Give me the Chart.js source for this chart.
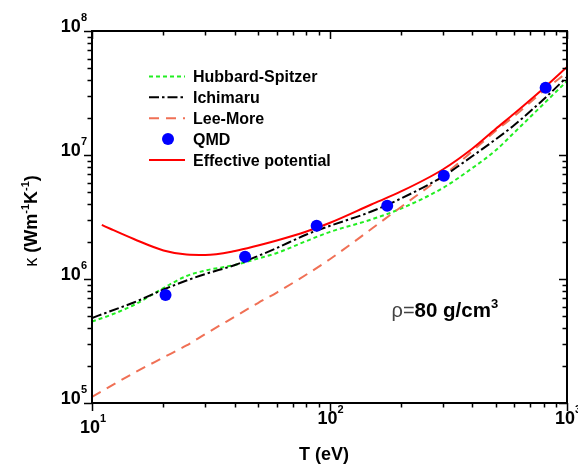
<!DOCTYPE html>
<html>
<head>
<meta charset="utf-8">
<script src="https://cdn.jsdelivr.net/npm/chart.js@4"></script>
<style>
  html, body { margin: 0; padding: 0; background: #fff; }
  canvas { display: block; }
</style>
</head>
<body>
<canvas id="kappa" width="578" height="466"></canvas>
<script>
// Thermal conductivity of dense plasma at rho = 80 g/cm^3 (log-log)
const tempsModel = [10, 12, 15, 20, 25, 30, 40, 50, 60, 80, 100, 150, 200, 300, 400, 500, 600, 800, 1000];
const hubbardSpitzer = [4.54e5, 5.13e5, 6.17e5, 8.46e5, 1.057e6, 1.171e6, 1.297e6, 1.463e6, 1.621e6, 2.025e6, 2.39e6, 3.02e6, 3.70e6, 5.42e6, 7.86e6, 1.087e7, 1.519e7, 2.60e7, 3.95e7];
const ichimaru = [4.85e5, 5.52e5, 6.46e5, 8.23e5, 9.72e5, 1.097e6, 1.297e6, 1.533e6, 1.778e6, 2.285e6, 2.675e6, 3.50e6, 4.46e6, 6.71e6, 9.81e6, 1.334e7, 1.746e7, 2.83e7, 4.26e7];

const tempsLeeMore = [10, 15, 20, 25, 30, 40, 50, 60, 80, 100, 150, 200, 300, 400, 500, 600, 800, 1000];
const leeMore = [1.118e5, 1.745e5, 2.33e5, 2.91e5, 3.60e5, 4.98e5, 6.40e5, 7.78e5, 1.087e6, 1.437e6, 2.53e6, 3.81e6, 6.77e6, 1.077e7, 1.562e7, 2.06e7, 3.31e7, 4.63e7];

const tempsEffective = [11, 12, 15, 20, 25, 30, 40, 50, 60, 80, 100, 150, 200, 300, 400, 500, 600, 800, 1000];
const effectivePotential = [2.73e6, 2.53e6, 2.10e6, 1.70e6, 1.576e6, 1.562e6, 1.682e6, 1.863e6, 2.044e6, 2.416e6, 2.83e6, 3.99e6, 5.08e6, 7.64e6, 1.128e7, 1.62e7, 2.16e7, 3.47e7, 5.13e7];

const tempsQmd = [20.4, 44.1, 88.3, 175, 303, 813];
const qmd = [7.43e5, 1.51e6, 2.69e6, 3.90e6, 6.81e6, 3.49e7];

const xDecades = [1, 2, 3];       // tick labels 10^1 .. 10^3
const yDecades = [5, 6, 7, 8];    // tick labels 10^5 .. 10^8
const seriesNames = ['Hubbard-Spitzer', 'Ichimaru', 'Lee-More', 'QMD', 'Effective potential'];

const FONT = '"Liberation Sans", Arial, Helvetica, sans-serif';
const toPoints = (xs, ys) => xs.map((x, i) => ({ x, y: ys[i] }));

// Draws a sequence of text runs (font / raise) starting at x on baseline y
function drawRuns(ctx, runs, x, y) {
  let cx = x;
  for (const r of runs) {
    ctx.font = r.font;
    ctx.fillStyle = r.color || '#000';
    ctx.fillText(r.text, cx, y - (r.raise || 0));
    cx += ctx.measureText(r.text).width;
  }
  return cx;
}
function runsWidth(ctx, runs) {
  let w = 0;
  for (const r of runs) { ctx.font = r.font; w += ctx.measureText(r.text).width; }
  return w;
}
function powRuns(exp) {
  return [
    { text: '10', font: 'bold 18px ' + FONT },
    { text: String(exp), font: 'bold 11px ' + FONT, raise: 11 }
  ];
}

const framePlugin = {
  id: 'frame',
  afterDraw(chart) {
    const { ctx, chartArea: a, scales: { x, y } } = chart;
    ctx.save();
    ctx.textBaseline = 'alphabetic';
    ctx.textAlign = 'left';

    // tick marks on all four sides
    ctx.strokeStyle = '#000';
    ctx.lineWidth = 1.5;
    const majorLen = 8, minorLen = 4.5;
    const xTicks = [], yTicks = [];
    xDecades.forEach((e, i) => {
      xTicks.push({ v: Math.pow(10, e), major: true });
      if (i < xDecades.length - 1) for (let m = 2; m <= 9; m++) xTicks.push({ v: m * Math.pow(10, e), major: false });
    });
    yDecades.forEach((e, i) => {
      yTicks.push({ v: Math.pow(10, e), major: true });
      if (i < yDecades.length - 1) for (let m = 2; m <= 9; m++) yTicks.push({ v: m * Math.pow(10, e), major: false });
    });
    ctx.beginPath();
    for (const t of xTicks) {
      const px = Math.round(x.getPixelForValue(t.v)) + 0.5;
      const len = t.major ? majorLen : minorLen;
      ctx.moveTo(px, a.bottom); ctx.lineTo(px, a.bottom + len);
      ctx.moveTo(px, a.top); ctx.lineTo(px, a.top + len);
    }
    for (const t of yTicks) {
      const py = Math.round(y.getPixelForValue(t.v)) + 0.5;
      const len = t.major ? majorLen : minorLen;
      ctx.moveTo(a.left - len, py); ctx.lineTo(a.left, py);
      ctx.moveTo(a.right - len, py); ctx.lineTo(a.right, py);
    }
    ctx.stroke();

    // axis frame
    ctx.lineWidth = 2;
    ctx.strokeRect(a.left, a.top, a.right - a.left, a.bottom - a.top);

    // x tick labels
    xDecades.forEach((e, i) => {
      const runs = powRuns(e);
      const w = runsWidth(ctx, runs);
      const px = x.getPixelForValue(Math.pow(10, e));
      const base = a.bottom + 21 + (i === 0 ? 9 : 0);
      drawRuns(ctx, runs, px - w / 2 + 1, base);
    });
    // y tick labels
    yDecades.forEach(e => {
      const runs = powRuns(e);
      const w = runsWidth(ctx, runs);
      const py = y.getPixelForValue(Math.pow(10, e));
      drawRuns(ctx, runs, a.left - 5 - w, py + 1);
    });

    // x axis title
    ctx.font = 'bold 18px ' + FONT;
    ctx.fillStyle = '#000';
    ctx.textAlign = 'center';
    ctx.fillText('T (eV)', 324, 459.5);
    ctx.textAlign = 'left';

    // y axis title, rotated
    const yTitle = [
      { text: 'κ', font: '18px ' + FONT },
      { text: ' (Wm', font: 'bold 18px ' + FONT },
      { text: '-1', font: 'bold 11px ' + FONT, raise: 8 },
      { text: 'K', font: 'bold 18px ' + FONT },
      { text: '-1', font: 'bold 11px ' + FONT, raise: 8 },
      { text: ')', font: 'bold 18px ' + FONT }
    ];
    ctx.save();
    ctx.translate(37, 221);
    ctx.rotate(-Math.PI / 2);
    drawRuns(ctx, yTitle, -runsWidth(ctx, yTitle) / 2, 0);
    ctx.restore();

    // density annotation
    drawRuns(ctx, [
      { text: 'ρ=', font: '20px ' + FONT, color: '#444' },
      { text: '80 g/cm', font: 'bold 20.5px ' + FONT },
      { text: '3', font: 'bold 13px ' + FONT, raise: 9 }
    ], 391.5, 317);

    // legend
    const rowY0 = 76.5, rowStep = 20.85;
    chart.data.datasets.forEach(ds => {
      const idx = seriesNames.indexOf(ds.label);
      const ry = rowY0 + idx * rowStep;
      if (ds.showLine === false) {
        ctx.beginPath();
        ctx.fillStyle = ds.backgroundColor;
        ctx.arc(168, ry, 6, 0, Math.PI * 2);
        ctx.fill();
      } else {
        ctx.beginPath();
        ctx.strokeStyle = ds.borderColor;
        ctx.lineWidth = ds.borderWidth;
        ctx.setLineDash(ds.borderDash || []);
        ctx.moveTo(149, ry); ctx.lineTo(185, ry);
        ctx.stroke();
        ctx.setLineDash([]);
      }
      ctx.font = 'bold 16px ' + FONT;
      ctx.fillStyle = '#000';
      ctx.fillText(ds.label, 193, ry + 5.8);
    });
    ctx.restore();
  }
};

const lineStyle = {
  type: 'line',
  fill: false,
  pointRadius: 0,
  borderWidth: 2,
  cubicInterpolationMode: 'monotone'
};

new Chart(document.getElementById('kappa'), {
  data: {
    datasets: [
      { ...lineStyle, label: seriesNames[0], data: toPoints(tempsModel, hubbardSpitzer),
        borderColor: '#22ee22', borderDash: [4, 3], order: 5 },
      { ...lineStyle, label: seriesNames[1], data: toPoints(tempsModel, ichimaru),
        borderColor: '#000000', borderDash: [10, 3, 2.5, 3], order: 3 },
      { ...lineStyle, label: seriesNames[2], data: toPoints(tempsLeeMore, leeMore),
        borderColor: '#f07055', borderDash: [10, 7], order: 4 },
      { type: 'scatter', label: seriesNames[3], data: toPoints(tempsQmd, qmd),
        showLine: false, pointRadius: 6, pointHoverRadius: 6, borderWidth: 0,
        backgroundColor: '#0000ff', borderColor: '#0000ff', order: 0 },
      { ...lineStyle, label: seriesNames[4], data: toPoints(tempsEffective, effectivePotential),
        borderColor: '#ff0000', order: 1 }
    ]
  },
  options: {
    responsive: false,
    animation: false,
    devicePixelRatio: 1,
    layout: { padding: { left: 92, right: 11, top: 31, bottom: 63 } },
    plugins: { legend: { display: false }, tooltip: { enabled: false } },
    events: [],
    scales: {
      x: { type: 'logarithmic', min: 10, max: 1000, display: false },
      y: { type: 'logarithmic', min: 1e5, max: 1e8, display: false }
    }
  },
  plugins: [framePlugin]
});
</script>
</body>
</html>
